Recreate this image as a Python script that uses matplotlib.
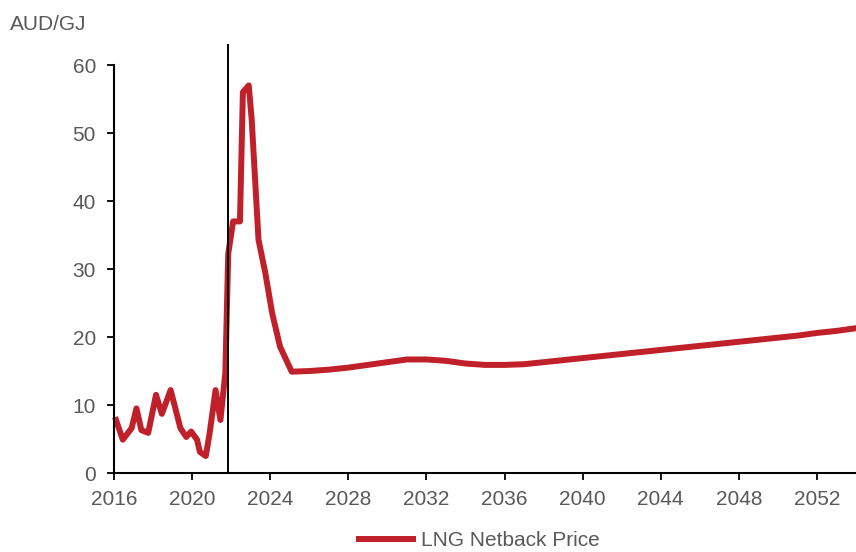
import matplotlib.pyplot as plt

plt.rcParams['font.family'] = ['Liberation Sans Narrow', 'Liberation Sans', 'DejaVu Sans']

# historical quarterly-ish netback, then annual outlook
hist_years = [2016.1, 2016.45, 2016.9, 2017.15, 2017.4, 2017.75, 2018.15, 2018.45,
              2018.9, 2019.4, 2019.7, 2019.95, 2020.25, 2020.4, 2020.7, 2020.9,
              2021.2, 2021.45, 2021.7, 2021.85, 2022.1, 2022.45, 2022.6, 2022.9,
              2023.05, 2023.4, 2023.75, 2024.1, 2024.5]
hist_price = [7.8, 4.9, 6.6, 9.5, 6.3, 5.9, 11.5, 8.7,
              12.2, 6.6, 5.3, 6.1, 4.9, 3.1, 2.5, 5.9,
              12.2, 7.8, 14.7, 32.3, 37.0, 37.0, 56.0, 57.0,
              52.0, 34.3, 29.4, 23.5, 18.6]

proj_years = [2025.1, 2026, 2027, 2028, 2029, 2030, 2031, 2032, 2033, 2034, 2035,
              2036, 2037, 2038, 2039, 2040, 2041, 2042, 2043, 2044, 2045, 2046,
              2047, 2048, 2049, 2050, 2051, 2052, 2053, 2054]
proj_price = [14.9, 15.0, 15.2, 15.5, 15.9, 16.3, 16.7, 16.7, 16.5, 16.1, 15.9,
              15.9, 16.0, 16.3, 16.6, 16.9, 17.2, 17.5, 17.8, 18.1, 18.4, 18.7,
              19.0, 19.3, 19.6, 19.9, 20.2, 20.6, 20.9, 21.3]

years = hist_years + proj_years
price = hist_price + proj_price

split_year = 2021.85
xticks = list(range(2016, 2054, 4))
yticks = [0, 10, 20, 30, 40, 50, 60]

grey = '#595959'
red = '#C0202A'

fig = plt.figure(figsize=(8.56, 5.52), dpi=100)
ax = fig.add_axes([0.1332, 0.1431, 0.8668, 0.7391])

ax.plot(years, price, color=red, linewidth=4.3, solid_joinstyle='round',
        label='LNG Netback Price', clip_on=False)
ax.plot([split_year, split_year], [0, 62.9], color='black', linewidth=1.4, clip_on=False)

ax.set_xlim(2016, 2054)
ax.set_ylim(0, 60)
ax.set_xticks(xticks)
ax.set_yticks(yticks)

for s in ['top', 'right']:
    ax.spines[s].set_visible(False)
for s in ['left', 'bottom']:
    ax.spines[s].set_linewidth(1.5)

ax.tick_params(direction='out', length=5, width=1.3, colors='black',
               labelcolor=grey, labelsize=15)
ax.tick_params(axis='x', pad=7)
ax.tick_params(axis='y', pad=8)

fig.text(0.012, 0.955, 'AUD/GJ', fontsize=15, color=grey, va='center', ha='left')

leg = fig.legend(loc='center', bbox_to_anchor=(0.56, 0.02), frameon=False,
                 fontsize=15, handlelength=2.6, handletextpad=0.4)
for t in leg.get_texts():
    t.set_color(grey)

fig.savefig('out.png', dpi=100)
